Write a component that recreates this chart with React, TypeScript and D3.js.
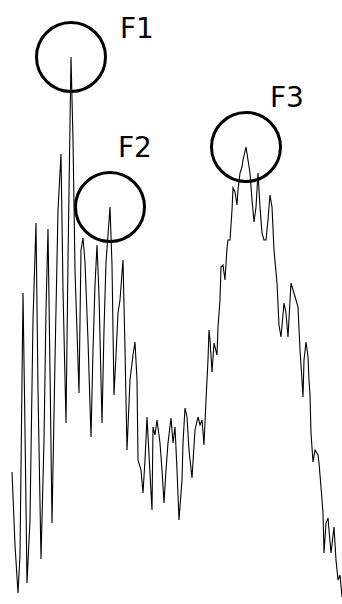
import React, { useEffect, useRef } from "react";
import * as d3 from "d3";

// sample position along the trace (px-like units) and the signal level
const sampleX = [
  12, 15, 18, 20, 23, 25, 27, 30, 33, 36, 38, 41, 44, 46, 48, 50, 52, 55, 58, 61,
  63, 66, 68, 71, 73, 75, 79, 81, 83, 85, 88, 91, 93, 95, 97, 99, 102, 104, 106, 108,
  110, 112, 114, 116, 118, 120, 123, 125, 127, 130, 133, 135, 137, 138, 141, 143, 145, 147, 149, 152,
  153, 155, 157, 160, 162, 164, 166, 168, 171, 173, 175, 177, 179, 182, 183, 185, 187, 189, 192, 195,
  198, 200, 202, 204, 206, 208, 209, 210, 212, 214, 217, 218, 220, 221, 223, 225, 227, 228, 230, 232,
  233, 235, 237, 238, 240, 242, 243, 246, 248, 250, 252, 254, 256, 258, 260, 262, 264, 266, 268, 270,
  272, 274, 277, 279, 281, 284, 286, 288, 291, 293, 296, 298, 300, 302, 303, 304, 306, 308, 309, 310,
  311, 313, 315, 318, 319, 321, 323, 324, 326, 328, 329, 331, 334, 336, 338, 340, 342,
];

const level = [
  128, 55, 7, 45, 307, 170, 17, 80, 280, 377, 210, 41, 160, 290, 371, 230, 77, 240, 390, 446,
  310, 177, 340, 543, 460, 330, 207, 350, 362, 338, 260, 163, 250, 315, 355, 305, 177, 270, 338, 365,
  393, 335, 205, 245, 287, 300, 340, 250, 150, 220, 245, 258, 220, 140, 130, 107, 140, 183, 145, 90,
  173, 165, 180, 157, 130, 97, 130, 157, 182, 157, 173, 130, 80, 120, 157, 192, 183, 150, 122, 170,
  183, 175, 180, 155, 200, 240, 270, 260, 228, 257, 245, 273, 300, 333, 335, 320, 352, 360, 360, 390,
  412, 408, 395, 410, 427, 433, 440, 453, 440, 427, 400, 378, 393, 427, 393, 367, 360, 360, 380, 405,
  393, 350, 317, 275, 263, 297, 287, 263, 317, 310, 300, 293, 250, 220, 203, 240, 258, 243, 220, 205,
  167, 138, 150, 145, 137, 113, 87, 47, 77, 82, 70, 47, 73, 40, 20, 25, 3,
];

// marked formant peaks
const peakLabels = ["F1", "F2", "F3"];
const peakSamples = [71, 110, 246];

const W = 342;
const H = 604;

const App = () => {
  const svgRef = useRef<SVGSVGElement>(null);

  useEffect(() => {
    const svg = d3.select(svgRef.current);
    svg.selectAll("*").remove();

    const x = d3.scaleLinear().domain([0, W]).range([0, W]);
    const y = d3.scaleLinear().domain([0, 600]).range([600, 0]);

    const pts = sampleX.map((s, i) => [s, level[i]] as [number, number]);

    svg
      .append("path")
      .datum(pts)
      .attr("fill", "none")
      .attr("stroke", "#000")
      .attr("stroke-width", 1.1)
      .attr(
        "d",
        d3
          .line<[number, number]>()
          .x((d) => x(d[0]))
          .y((d) => y(d[1]))
      );

    // label offsets relative to each peak
    const labelOff = [
      [49, -19],
      [8, -50],
      [24, -40],
    ];

    peakSamples.forEach((s, i) => {
      const v = level[sampleX.indexOf(s)];
      const cx = x(s);
      const cy = y(v);
      svg
        .append("circle")
        .attr("cx", cx)
        .attr("cy", cy)
        .attr("r", 34.5)
        .attr("fill", "none")
        .attr("stroke", "#000")
        .attr("stroke-width", 3);
      svg
        .append("text")
        .attr("x", cx + labelOff[i][0])
        .attr("y", cy + labelOff[i][1])
        .attr("font-family", "DejaVu Sans, Verdana, sans-serif")
        .attr("font-size", 28)
        .attr("fill", "#000")
        .text(peakLabels[i]);
    });
  }, []);

  return (
    <svg
      ref={svgRef}
      width={W}
      height={H}
      style={{ position: "absolute", left: 0, top: 0, background: "#fff" }}
    ></svg>
  );
};

export default App;
